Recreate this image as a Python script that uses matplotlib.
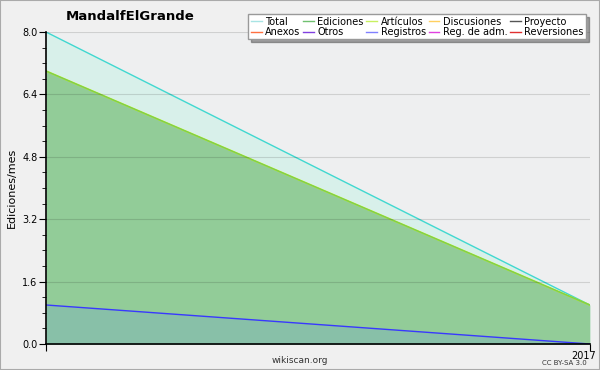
import matplotlib
matplotlib.use("Agg")
import matplotlib.pyplot as plt
import matplotlib.transforms as mtransforms
from matplotlib.patches import Rectangle
from matplotlib.lines import Line2D

# data
x_labels = ["", "2017"]
total = [8.0, 1.0]
ediciones = [7.0, 1.0]
articulos = [7.0, 1.0]
registros = [1.0, 0.0]
yticks = [0.0, 1.6, 3.2, 4.8, 6.4, 8.0]
legend_labels = ["Total", "Ediciones", "Artículos", "Discusiones", "Proyecto",
                 "Anexos", "Otros", "Registros", "Reg. de adm.", "Reversiones"]
legend_colors = ["#a8e4e4", "#70c070", "#c8f060", "#ffd060", "#555555",
                 "#ff7040", "#8040e0", "#8080ff", "#e040e0", "#e03030"]

x = list(range(len(total)))

fig = plt.figure(figsize=(6, 3.7), dpi=100, facecolor="#f0f0f0")
fig.patches.append(Rectangle((0, 0), 1, 1, transform=fig.transFigure,
                             fill=False, edgecolor="#aaaaaa", linewidth=1.5))
ax = fig.add_axes([0.0767, 0.0703, 0.9063, 0.8432])
ax.set_facecolor("#eeeff0")

ax.fill_between(x, 0, total, color="#d8f0ea", linewidth=0)
ax.fill_between(x, 0, ediciones, color="#92cc98", linewidth=0)
ax.fill_between(x, 0, registros, color="#88c0a8", linewidth=0)
ax.plot(x, total, color="#40d8d0", linewidth=1)
ax.plot(x, articulos, color="#b0f000", linewidth=1.2)
ax.plot(x, ediciones, color="#70c070", linewidth=0.6)
ax.plot(x, registros, color="#3838ff", linewidth=1)

ax.set_xlim(0, 1)
ax.set_ylim(0, 8.0)
ax.set_yticks(yticks)
ax.set_yticklabels([f"{v:.1f}" for v in yticks], fontsize=7)
ax.set_yticks([i * 0.4 for i in range(21)], minor=True)
ax.set_xticks(x)
ax.set_xticklabels(x_labels, fontsize=7)
ax.tick_params(axis="x", length=5, pad=0, color="black")
ax.tick_params(axis="y", which="major", length=5, pad=1)
ax.tick_params(axis="y", which="minor", length=3)
ax.grid(axis="y", color="black", alpha=0.13, linewidth=0.8)
ax.set_axisbelow(False)
for s in ["top", "right"]:
    ax.spines[s].set_visible(False)
ax.spines["left"].set_linewidth(1.2)
ax.spines["bottom"].set_linewidth(1.2)
offset = mtransforms.ScaledTranslation(6 / 100, 0, fig.dpi_scale_trans)
for lbl in ax.get_xticklabels():
    lbl.set_horizontalalignment("right")
    lbl.set_transform(lbl.get_transform() + offset)

ax.set_ylabel("Ediciones/mes", fontsize=8, labelpad=4)
fig.text(0.217, 0.955, "MandalfElGrande", fontsize=9.5, fontweight="bold",
         ha="center", va="center")
fig.text(0.5, 0.027, "wikiscan.org", fontsize=6.5, ha="center", va="center",
         color="#333333")
fig.text(0.94, 0.018, "CC BY-SA 3.0", fontsize=5, ha="center", va="center",
         color="#333333")

handles = [Line2D([0], [0], color=c, linewidth=1) for c in legend_colors]
order = [0, 5, 1, 6, 2, 7, 3, 8, 4, 9]
leg = fig.legend([handles[i] for i in order], [legend_labels[i] for i in order],
                 ncol=5, loc="upper right", bbox_to_anchor=(0.985, 0.975),
                 fontsize=7, frameon=True, fancybox=False, shadow=True,
                 handlelength=1.1, handletextpad=0.35, columnspacing=0.3,
                 labelspacing=0.05, borderpad=0.25)
leg.get_frame().set_edgecolor("#999999")
leg.get_frame().set_facecolor("white")

fig.savefig("out.png", dpi=100, facecolor=fig.get_facecolor())
